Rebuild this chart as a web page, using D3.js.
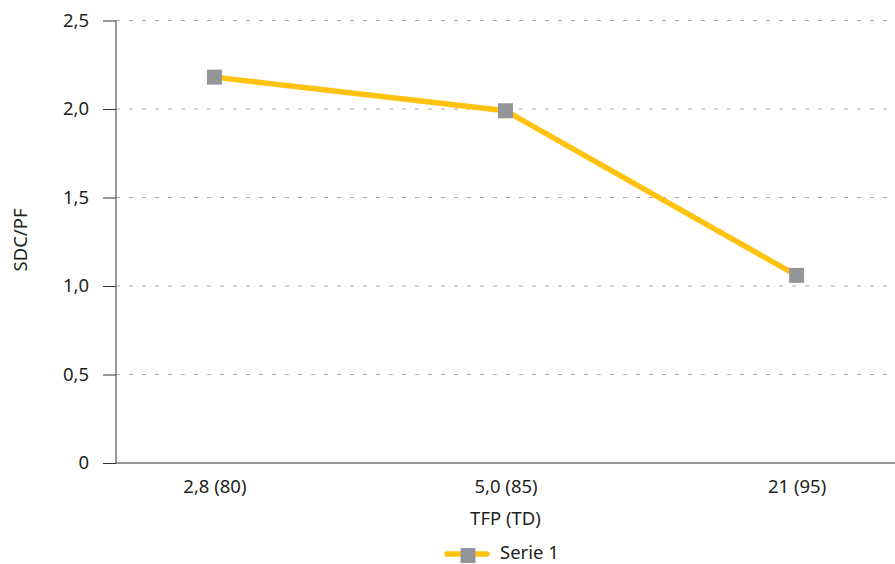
<!DOCTYPE html>
<html><head><meta charset="utf-8">
<script src="https://cdn.jsdelivr.net/npm/d3@7"></script>
<style>body{margin:0;background:#fff}svg{display:block}text{font-family:"Noto Sans",sans-serif;fill:#231f20}</style>
</head><body><svg id="c" width="895" height="564"></svg>
<script>
const categories = ["2,8 (80)", "5,0 (85)", "21 (95)"];
const values = [2.18, 1.99, 1.06];
const yTicks = [0, 0.5, 1.0, 1.5, 2.0, 2.5];
const seriesName = "Serie 1";
const xTitle = "TFP (TD)";
const yTitle = "SDC/PF";

const FONT = "'Noto Sans', sans-serif";
const FS = 18.5;
const svg = d3.select("#c");
const L = 116, R = 895, T = 20.5, B = 463;
const x = d3.scalePoint().domain(categories).range([L, R]).padding(0.338);
const y = d3.scaleLinear().domain([0, 2.5]).range([B, T]);
const fmt = v => v === 0 ? "0" : d3.format(".1f")(v).replace(".", ",");

// grid
svg.append("g").selectAll("line").data(yTicks.filter(d => d > 0)).join("line")
  .attr("x1", L).attr("x2", R).attr("y1", d => y(d)).attr("y2", d => y(d))
  .attr("stroke", "#a7a9ac").attr("stroke-width", 1).attr("stroke-dasharray", "4,9");

// y axis
const ya = svg.append("g").attr("transform", `translate(${L},0)`)
  .call(d3.axisLeft(y).tickValues(yTicks).tickFormat(fmt).tickSize(13).tickPadding(14));
ya.select(".domain").attr("stroke", "#333").attr("d", `M0,${T}V${B}`);
ya.selectAll(".tick line").attr("stroke", "#333");
ya.selectAll(".tick text").attr("font-size", FS).attr("font-family", FONT).attr("fill", "#231f20");

// x axis
const xa = svg.append("g").attr("transform", `translate(0,${B})`)
  .call(d3.axisBottom(x).tickSize(0).tickPadding(17));
xa.select(".domain").attr("stroke", "#333").attr("d", `M${L},0H${R}`);
xa.selectAll(".tick text").attr("font-size", FS).attr("font-family", FONT).attr("fill", "#231f20");

// titles
svg.append("text").attr("x", x(categories[1])).attr("y", 525).attr("text-anchor", "middle")
  .attr("font-size", FS).text(xTitle);
svg.append("text").attr("transform", `translate(27,240) rotate(-90)`).attr("text-anchor", "middle")
  .attr("font-size", FS).text(yTitle);

// line
const line = d3.line().x((d, i) => x(categories[i])).y(d => y(d));
svg.append("path").datum(values).attr("d", line).attr("fill", "none")
  .attr("stroke", "#ffc20e").attr("stroke-width", 5.5);
svg.append("g").selectAll("rect").data(values).join("rect")
  .attr("x", (d, i) => x(categories[i]) - 7.5).attr("y", d => y(d) - 7.5)
  .attr("width", 15).attr("height", 15).attr("fill", "#939598");

// legend
const lg = svg.append("g").attr("transform", "translate(445,555)");
lg.append("line").attr("x1", 2).attr("x2", 42).attr("y1", -1).attr("y2", -1)
  .attr("stroke", "#ffc20e").attr("stroke-width", 5.5).attr("stroke-linecap", "round");
lg.append("rect").attr("x", 15.5).attr("y", -7).attr("width", 15).attr("height", 15).attr("fill", "#939598");
lg.append("text").attr("x", 55).attr("y", 3.5).attr("font-size", FS).text(seriesName);
</script></body></html>
